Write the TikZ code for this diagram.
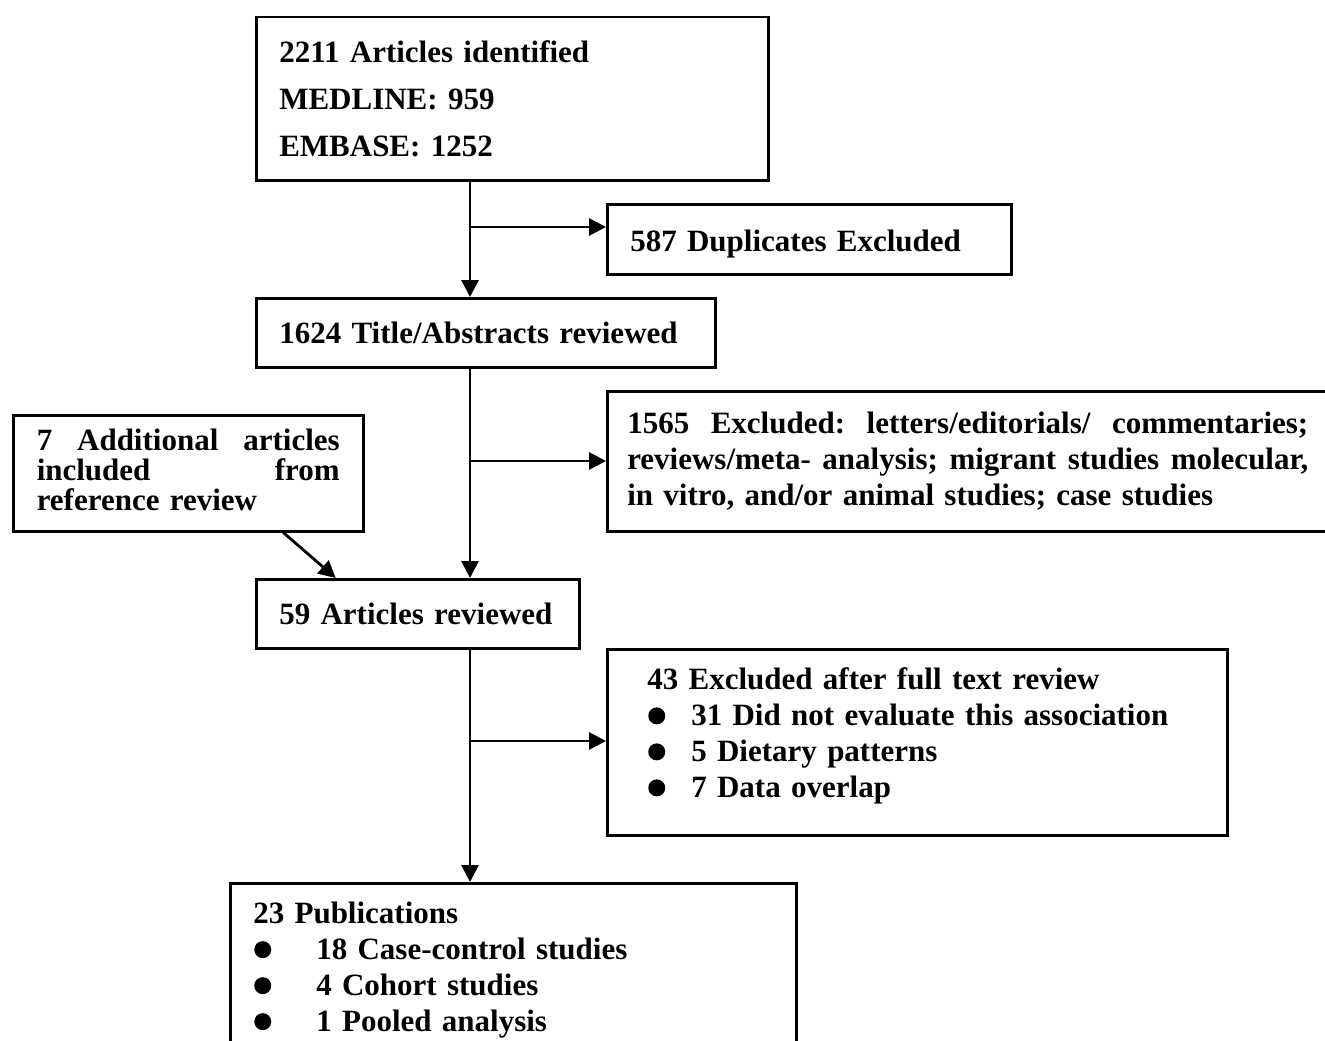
\documentclass[tikz,border=0pt]{standalone}
\usepackage{fontspec}
\setmainfont{Liberation Serif}
\usetikzlibrary{arrows.meta}
\newcommand{\bul}[1]{\makebox[#1][l]{\tikz[baseline=0pt]{\useasboundingbox (0pt,0pt) rectangle (18pt,1pt);\fill (9.5pt,10pt) circle[radius=8.5pt];}}}
\newcommand{\shiftup}[2]{\raisebox{#1}[\height][\depth]{#2}}
\begin{document}
\begin{tikzpicture}[x=1pt,y=-1pt,
  box/.style={draw, line width=2.5pt, anchor=north west, inner ysep=0pt, inner xsep=23pt,
    font=\bfseries\fontsize{31}{36}\selectfont, align=left},
  arr/.style={line width=2.8pt, -{Triangle[length=17pt,width=17pt]}}]
\useasboundingbox (0,0) rectangle (1325,1041);

\node[box, text width=466pt, minimum height=163pt,
  font=\bfseries\fontsize{31}{47}\selectfont] (ident) at (255,16)
  {2211 Articles identified\\MEDLINE: 959\\EMBASE: 1252};

\node[box, text width=358pt, minimum height=70pt] (dup) at (606,203)
  {\shiftup{-5pt}{587 Duplicates Excluded}};

\node[box, text width=413pt, minimum height=69pt] (title) at (255,297)
  {1624 Title/Abstracts reviewed};

\node[box, inner xsep=20pt, text width=681pt, minimum height=140pt] (excl) at (606,390)
  {\makebox[681pt][l]{1565\hfill Excluded:\hfill letters/editorials/\hfill commentaries;}\\
   \makebox[681pt][l]{reviews/meta-\hfill analysis;\hfill migrant\hfill studies\hfill molecular,}\\
   in vitro, and/or animal studies; case studies};

\node[box, inner xsep=23.5pt, text width=303pt, minimum height=116pt,
  font=\bfseries\fontsize{31}{30}\selectfont] (add) at (12,414)
  {\shiftup{3pt}{\parbox[b]{303pt}{%
   \makebox[303pt][l]{7\hfill Additional\hfill articles}\\
   \makebox[303pt][l]{included\hfill from}\\
   reference review}}};

\node[box, text width=277pt, minimum height=69pt] (rev) at (255,578)
  {59 Articles reviewed};

\node[box, inner xsep=40pt, text width=540pt, minimum height=186pt] (full) at (606,648)
  {\shiftup{6pt}{\parbox[b]{540pt}{%
   43 Excluded after full text review\\
   \bul{44pt}31 Did not evaluate this association\\
   \bul{44pt}5 Dietary patterns\\
   \bul{44pt}7 Data overlap}}};

\node[box, text width=520pt, minimum height=174pt] (pub) at (229,882)
  {23 Publications\\
   \bul{63pt}18 Case-control studies\\
   \bul{63pt}4 Cohort studies\\
   \bul{63pt}1 Pooled analysis};

\coordinate (c1) at (470,227);
\coordinate (c2) at (470,461);
\coordinate (c3) at (470,741);

\draw[arr] (c1 |- ident.south) -- (c1 |- title.north);
\draw[arr] (c1) -- (c1 -| dup.west);
\draw[arr] (c2 |- title.south) -- (c2 |- rev.north);
\draw[arr] (c2) -- (c2 -| excl.west);
\draw[arr] (c3 |- rev.south) -- (c3 |- pub.north);
\draw[arr] (c3) -- (c3 -| full.west);
\draw[arr] ([xshift=95pt]add.south) -- ([xshift=-82pt]rev.north);
\end{tikzpicture}
\end{document}
